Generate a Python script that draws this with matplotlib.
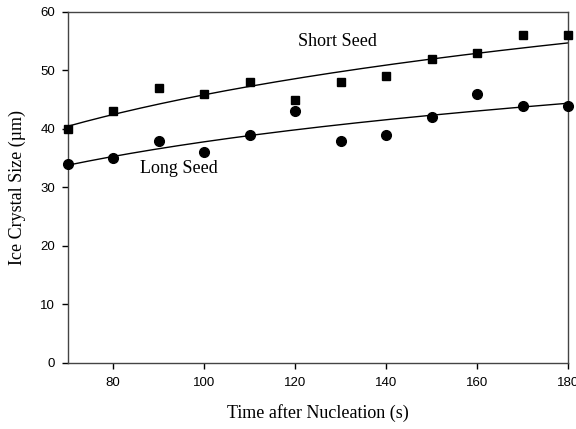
import numpy as np
import matplotlib
matplotlib.use("Agg")
import matplotlib.pyplot as plt

time_s = [70, 80, 90, 100, 110, 120, 130, 140, 150, 160, 170, 180]
short_seed = [40, 43, 47, 46, 48, 45, 48, 49, 52, 53, 56, 56]
long_seed = [34, 35, 38, 36, 39, 43, 38, 39, 42, 46, 44, 44]
x_ticks = [80, 100, 120, 140, 160, 180]
y_ticks = [0, 10, 20, 30, 40, 50, 60]

fig = plt.figure(figsize=(5.76, 4.29), dpi=100)
ax = fig.add_axes([67.7/576, 1-362.7/429, (568-67.7)/576, (362.7-12)/429])

t = np.array(time_s, dtype=float)
tf = np.linspace(70, 180, 200)
for ys, mk, ms in [(short_seed, 's', 5.5), (long_seed, 'o', 7)]:
    b, a = np.polyfit(np.log(t), np.array(ys, float), 1)
    ax.plot(tf, a + b*np.log(tf), color='black', lw=1.0, zorder=2)
    ax.plot(t, ys, mk, color='black', ms=ms, zorder=3, clip_on=False)

ax.set_xlim(70, 180)
ax.set_ylim(0, 60)
ax.set_xticks(x_ticks)
ax.set_yticks(y_ticks)
ax.tick_params(direction='out', length=4, width=1, labelsize=9.5, top=False, right=False)
ax.tick_params(axis='x', pad=6)
ax.tick_params(axis='y', pad=5)
for lab in ax.get_xticklabels() + ax.get_yticklabels():
    lab.set_family('Liberation Sans')
for s in ax.spines.values():
    s.set_color('#444444')
    s.set_linewidth(1.0)

serif = 'Liberation Serif'
ax.set_xlabel('Time after Nucleation (s)', family=serif, fontsize=13, labelpad=11)
ax.set_ylabel('Ice Crystal Size (µm)', family=serif, fontsize=13, labelpad=10)
ax.text(120.6, 54.9, 'Short Seed', family=serif, fontsize=13, va='center', ha='left')
ax.text(85.9, 33.3, 'Long Seed', family=serif, fontsize=13, va='center', ha='left')

fig.savefig('out.png', dpi=100)
